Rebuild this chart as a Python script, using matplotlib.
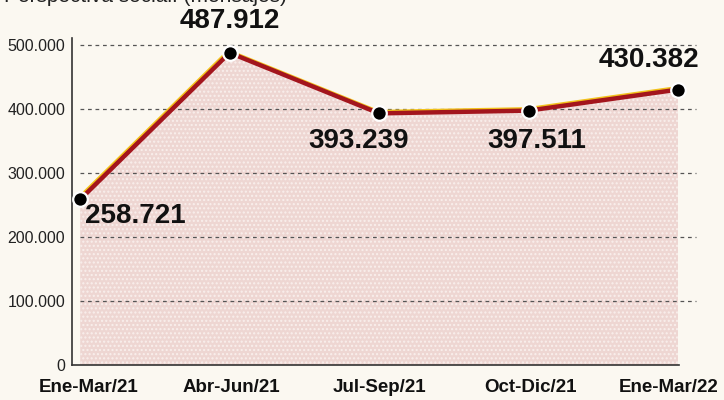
import matplotlib.pyplot as plt
import matplotlib.transforms as mtransforms

# Datos
periodos = ['Ene-Mar/21', 'Abr-Jun/21', 'Jul-Sep/21', 'Oct-Dic/21', 'Ene-Mar/22']
mensajes = [258721, 487912, 393239, 397511, 430382]
etiquetas = ['258.721', '487.912', '393.239', '397.511', '430.382']
yticks = [0, 100000, 200000, 300000, 400000, 500000]
ytick_labels = ['0', '100.000', '200.000', '300.000', '400.000', '500.000']

plt.rcParams['font.family'] = ['Liberation Sans', 'DejaVu Sans']

paper = '#fbf8f1'
fig = plt.figure(figsize=(7.24, 4.0), dpi=100, facecolor=paper)
ax = fig.add_axes([0.0994, 0.0875, 0.868, 0.8175])
ax.set_facecolor(paper)

x = list(range(len(periodos)))

# area sombreada
ax.fill_between(x, mensajes, 0, facecolor='#eed6d2', edgecolor='#f9efec',
                hatch='....', linewidth=0, zorder=1)

# lineas guia
for v in yticks[1:]:
    ax.hlines(v, 0.0, 4.12, colors='#555555', linestyles=(0, (3, 3)),
              linewidth=0.9, zorder=2)

# borde amarillo + linea roja
off = mtransforms.offset_copy(ax.transData, fig=fig, x=-1, y=1.8, units='dots')
ax.plot(x, mensajes, color='#f2c21b', linewidth=2.5, transform=off,
        solid_capstyle='butt', zorder=3)
ax.plot(x, mensajes, color='#a3151d', linewidth=3.2, solid_capstyle='butt',
        zorder=4)
ax.plot(x, mensajes, 'o', color='black', markersize=10.5,
        markeredgecolor='white', markeredgewidth=1.6, zorder=5)

offsets = [(55, -17), (0, 32), (-20, -28), (8, -30), (-29, 30)]
for xi, yi, lab, o in zip(x, mensajes, etiquetas, offsets):
    ax.annotate(lab, (xi, yi), xytext=o, textcoords='offset pixels',
                ha='center', va='center', fontsize=20, fontweight='bold',
                color='#111111', zorder=6)

ax.set_xlim(-0.055, 4.15)
ax.set_ylim(0, 511000)
ax.set_yticks(yticks)
ax.set_yticklabels(ytick_labels, fontsize=11.5, color='#222222')
ax.set_xticks(x)
ax.set_xticklabels(periodos, fontsize=13.5, fontweight='bold', color='#111111')
ax.tick_params(axis='y', length=0, pad=5)
ax.tick_params(axis='x', length=0, pad=10)

# corrimiento de las etiquetas de los extremos
shifts = [8, 2, 0, 2, -9]
for lab, dx in zip(ax.get_xticklabels(), shifts):
    lab.set_transform(lab.get_transform() +
                      mtransforms.ScaledTranslation(dx / 100, 0, fig.dpi_scale_trans))

for s in ['top', 'right']:
    ax.spines[s].set_visible(False)
ax.spines['left'].set_color('#333333')
ax.spines['left'].set_linewidth(1.2)
ax.spines['bottom'].set_color('#333333')
ax.spines['bottom'].set_linewidth(1.2)
ax.spines['bottom'].set_bounds(-0.055, 4.01)

fig.text(0.005, 1.01, 'Perspectiva social. (mensajes)', fontsize=15,
         color='#222222', ha='left', va='center')

fig.savefig('out.png', dpi=100, facecolor=paper)
